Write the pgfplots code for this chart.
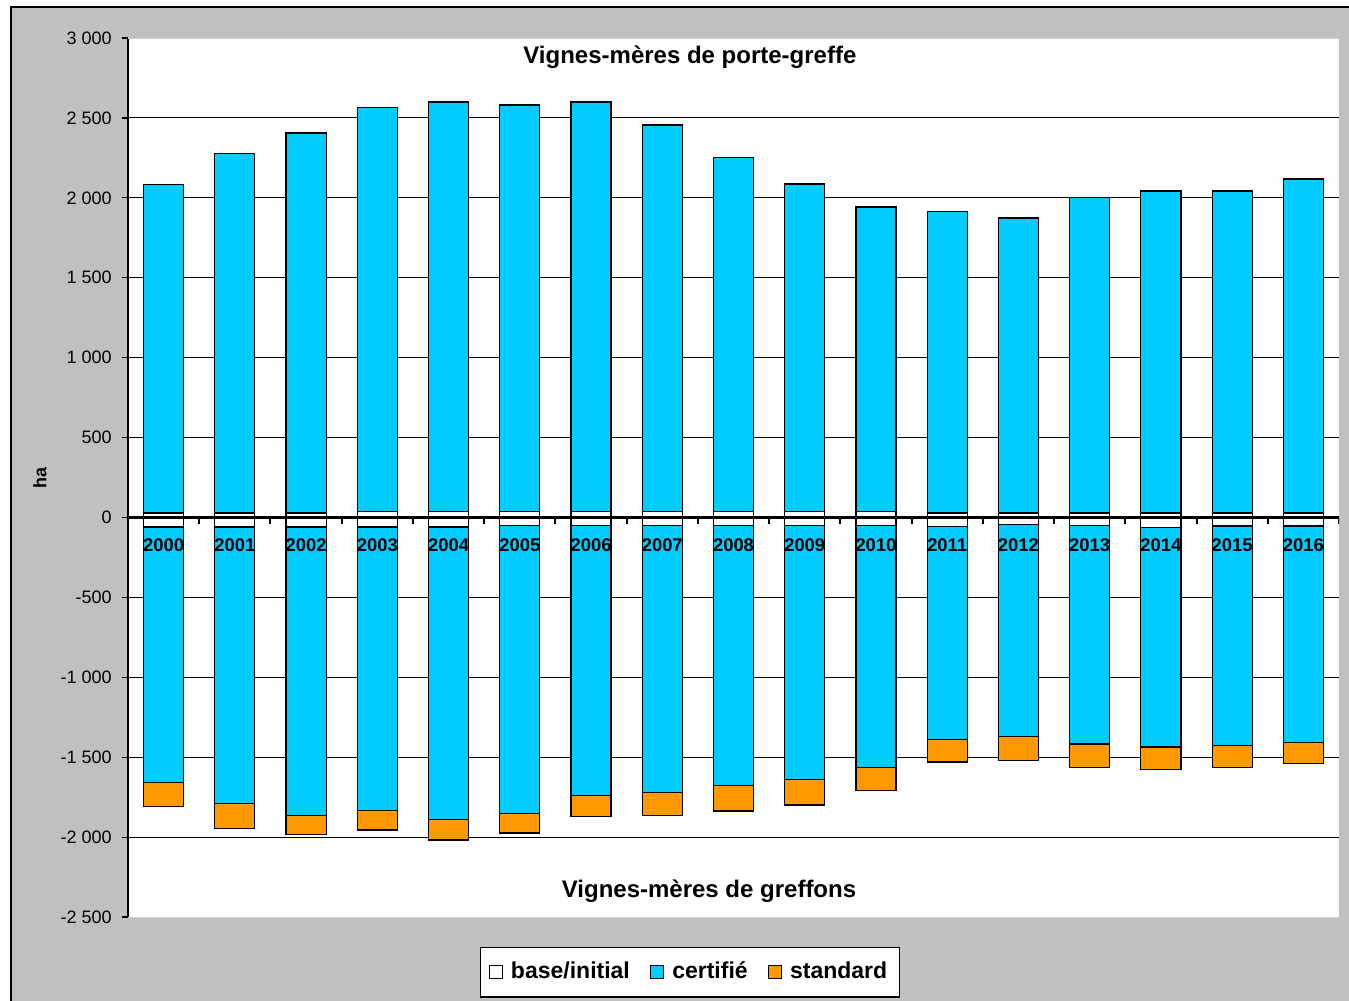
\documentclass[border=0pt]{standalone}
\usepackage{fontspec}
\setmainfont{Liberation Sans}
\usepackage{pgfplots}
\usepackage{pgfplotstable}
\pgfplotsset{compat=1.18}
\definecolor{cert}{HTML}{00CCFF}
\definecolor{std}{HTML}{FF9900}
\definecolor{bg}{HTML}{C0C0C0}

% cumulative bar ends (ha): positive side (porte-greffe), negative side (greffons)
\pgfplotstableread{
i ptot pbase ncert nbase ntot
0 2081 28 -1657 -60 -1807
1 2275 28 -1789 -60 -1945
2 2406 28 -1864 -60 -1983
3 2563 36 -1835 -60 -1956
4 2600 36 -1891 -60 -2018
5 2581 35 -1854 -50 -1974
6 2600 35 -1741 -50 -1872
7 2456 35 -1722 -50 -1864
8 2250 35 -1678 -50 -1837
9 2087 35 -1638 -50 -1799
10 1943 35 -1565 -50 -1707
11 1912 28 -1390 -56 -1530
12 1874 28 -1372 -45 -1519
13 2000 28 -1417 -50 -1565
14 2043 28 -1436 -64 -1576
15 2043 28 -1426 -54 -1565
16 2118 28 -1409 -54 -1538
}\data

\begin{document}
\begin{tikzpicture}
\begin{scope}[x=0.5pt,y=-0.5pt]
\useasboundingbox (0,0) rectangle (1349,1001);
\fill[white] (0,0) rectangle (1349,1001);
\fill[bg] (11,7) rectangle (1349,1001);
\draw[black, line width=0.8pt] (11,1001) -- (11,7) -- (1349,7);
\end{scope}
\begin{axis}[
  at={(64pt,-458.5pt)}, anchor=south west,
  scale only axis, width=605.5pt, height=439.5pt,
  xmin=-0.5, xmax=16.5, ymin=-2500, ymax=3000,
  axis x line=none, axis y line*=left,
  axis background/.style={fill=white},
  y axis line style={black, line width=0.8pt},
  ytick={-2000,-1500,...,2500},
  extra y ticks={-2500,3000},
  extra y tick style={grid style={gray!35, line width=0.5pt}},
  ymajorgrids, grid style={black, line width=0.5pt},
  tick align=outside, major tick length=3pt,
  ytick style={black, line width=0.6pt},
  yticklabel style={font=\fontsize{9}{10}\selectfont, inner sep=0pt, xshift=-5pt},
  /pgf/number format/1000 sep={\ },
  /pgf/number format/assume math mode=true,
  ylabel={ha},
  ylabel style={at={(axis description cs:-0.0727,0.5)}, anchor=center, rotate=0, font=\bfseries\fontsize{9}{10}\selectfont},
  mybar/.style={ybar, bar width=0.5625, bar shift=0pt, draw=black, line width=0.6pt},
  legend image code/.code={\draw[#1, draw=black, line width=0.6pt] (0pt,-3.3pt) rectangle (6.6pt,3.3pt);},
  legend style={at={(axis description cs:0.464,-0.0626)}, anchor=center,
    legend columns=3, draw=black, fill=white, line width=0.6pt,
    font=\bfseries\fontsize{11.5}{13}\selectfont,
    /tikz/every odd column/.append style={column sep=2pt},
    /tikz/every even column/.append style={column sep=8pt},
    inner xsep=4pt, inner ysep=5.5pt},
]
\addplot[mybar, fill=std, forget plot] table[x=i,y=ntot]{\data};
\addplot[mybar, fill=cert, forget plot] table[x=i,y=ncert]{\data};
\addplot[mybar, fill=white, forget plot] table[x=i,y=nbase]{\data};
\addplot[mybar, fill=cert, forget plot] table[x=i,y=ptot]{\data};
\addplot[mybar, fill=white, forget plot] table[x=i,y=pbase]{\data};
\addlegendimage{fill=white}
\addlegendentry{base/initial}
\addlegendimage{fill=cert}
\addlegendentry{certifié}
\addlegendimage{fill=std}
\addlegendentry{standard}
\draw[black, line width=1.6pt] (axis cs:-0.5,0) -- (axis cs:16.5,0);
\pgfplotsinvokeforeach{0,...,17}{
  \draw[black, line width=1pt] (axis cs:#1-0.5,0) -- ++(0pt,-3.5pt);
}
\pgfplotsinvokeforeach{0,...,16}{
  \node[font=\bfseries\fontsize{9.2}{10}\selectfont, inner sep=0pt] at (axis cs:#1,0) [yshift=-14pt] {\the\numexpr2000+#1\relax};
}
\node[font=\bfseries\fontsize{12}{14}\selectfont] at (axis description cs:0.464,0.9785) {Vignes-mères de porte-greffe};
\node[font=\bfseries\fontsize{12}{14}\selectfont] at (axis description cs:0.4798,0.029) {Vignes-mères de greffons};
\end{axis}
\end{tikzpicture}
\end{document}
